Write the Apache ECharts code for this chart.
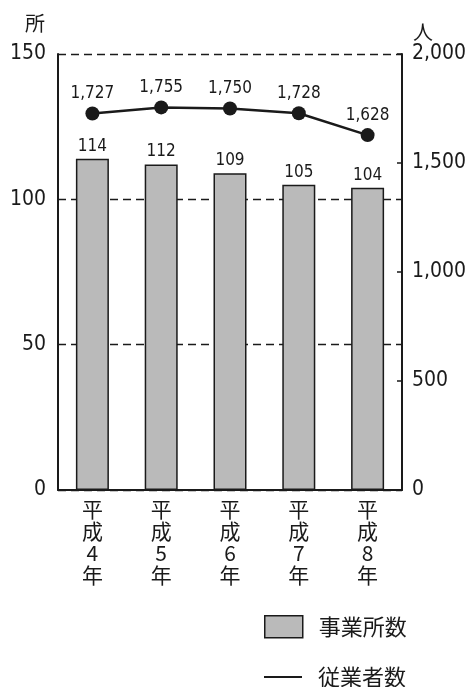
<!DOCTYPE html>
<html>
<head>
<meta charset="utf-8">
<script src="https://cdn.jsdelivr.net/npm/echarts@6/dist/echarts.min.js"></script>
<style>
html,body{margin:0;padding:0;background:#fff;}
#main{width:472px;height:687px;}
</style>
</head>
<body>
<div id="main"></div>
<script>
const categories = ['平\n成\n4\n年', '平\n成\n5\n年', '平\n成\n6\n年', '平\n成\n7\n年', '平\n成\n8\n年'];
const establishments = [114, 112, 109, 105, 104];
const employees = [1727, 1755, 1750, 1728, 1628];
const leftTicks = [0, 50, 100, 150];
const rightTicks = [0, 500, 1000, 1500, 2000];

const NARROW = '"DejaVu Sans Condensed", "Liberation Sans Narrow", sans-serif';
const CJK = '"Noto Sans CJK JP", sans-serif';
const INK = '#1a1a1a';

const chart = echarts.init(document.getElementById('main'), null, {renderer: 'canvas'});
chart.setOption({
  backgroundColor: '#fff',
  animation: false,
  grid: {left: 58, right: 70, top: 54, bottom: 197, containLabel: false},
  legend: [
    {
      data: ['事業所数'],
      left: 259, top: 610,
      itemWidth: 38, itemHeight: 22,
      icon: 'rect',
      itemStyle: {color: '#bababa', borderColor: INK, borderWidth: 1.5},
      textStyle: {fontFamily: CJK, fontSize: 22, color: INK, padding: [0, 0, 0, 11]}
    },
    {
      data: ['従業者数'],
      left: 259, top: 661,
      itemWidth: 38, itemHeight: 2,
      icon: 'rect',
      itemStyle: {color: INK, borderWidth: 0},
      textStyle: {fontFamily: CJK, fontSize: 22, color: INK, padding: [0, 0, 0, 11]}
    }
  ],
  graphic: [
    {type: 'text', left: 25, top: 13, style: {text: '所', fontFamily: CJK, fontSize: 20, fill: INK}},
    {type: 'text', left: 413, top: 22, style: {text: '人', fontFamily: CJK, fontSize: 20, fill: INK}}
  ],
  xAxis: {
    type: 'category',
    data: categories,
    axisLine: {lineStyle: {color: INK, width: 2}},
    axisTick: {show: false},
    axisLabel: {
      interval: 0, margin: 8,
      fontFamily: CJK, fontSize: 21, lineHeight: 22, color: INK
    }
  },
  yAxis: [
    {
      type: 'value', min: 0, max: 150, interval: 50,
      axisLine: {show: true, lineStyle: {color: INK, width: 2}},
      axisTick: {show: false},
      axisLabel: {
        margin: 12, fontFamily: NARROW, fontSize: 21, color: INK,
        formatter: v => leftTicks.includes(v) ? String(v) : ''
      },
      splitLine: {show: true, lineStyle: {color: INK, type: [8, 5], width: 1.3}}
    },
    {
      type: 'value', min: 0, max: 2000, interval: 500,
      position: 'right',
      axisLine: {show: true, lineStyle: {color: INK, width: 2}},
      axisTick: {show: true, inside: true, length: 5, lineStyle: {color: INK, width: 1.5}},
      axisLabel: {
        margin: 10, fontFamily: NARROW, fontSize: 21, color: INK,
        formatter: v => rightTicks.includes(v) ? v.toLocaleString('en-US') : ''
      },
      splitLine: {show: false}
    }
  ],
  series: [
    {
      name: '事業所数',
      type: 'bar',
      yAxisIndex: 0,
      data: establishments,
      barWidth: 33,
      itemStyle: {color: '#bababa', borderColor: INK, borderWidth: 1.5},
      label: {
        show: true, position: 'top', distance: 4,
        fontFamily: NARROW, fontSize: 17, color: INK
      }
    },
    {
      name: '従業者数',
      type: 'line',
      yAxisIndex: 1,
      data: employees,
      symbol: 'circle',
      symbolSize: 14,
      lineStyle: {color: INK, width: 2.5},
      itemStyle: {color: INK},
      label: {
        show: true, position: 'top', distance: 4,
        fontFamily: NARROW, fontSize: 17, color: INK,
        formatter: p => p.value.toLocaleString('en-US')
      }
    }
  ]
});
</script>
</body>
</html>
